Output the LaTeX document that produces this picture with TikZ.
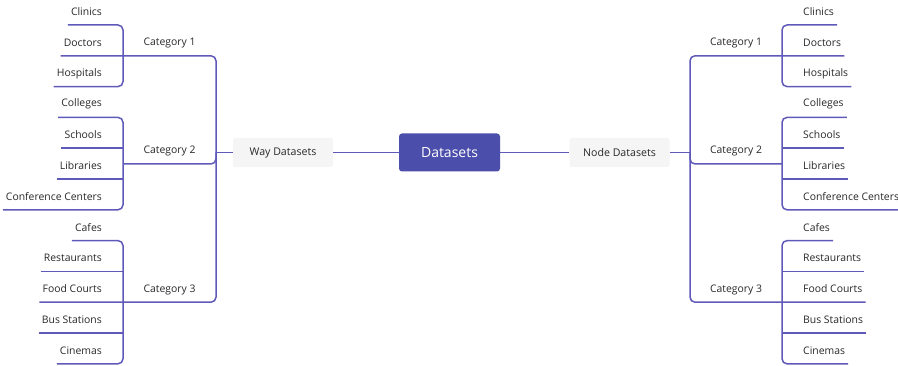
\documentclass[tikz,border=0pt]{standalone}
\usepackage{fontspec}
\setmainfont{Open Sans}
\usetikzlibrary{positioning}
\definecolor{linecol}{RGB}{95,90,185}
\definecolor{rootcol}{RGB}{75,78,170}
\definecolor{textcol}{RGB}{40,40,40}
\tikzset{
    leafL/.style={anchor=south east, minimum height=26pt, inner xsep=3pt, inner ysep=0pt, font=\fontsize{10.4}{12}\selectfont, text=textcol},
    leafR/.style={leafL, anchor=south west},
    cat/.style={font=\fontsize{10.4}{12}\selectfont, text=textcol},
    root/.style={rectangle, rounded corners=3pt, fill=rootcol, text=white, minimum width=101pt, minimum height=38pt, font=\fontsize{14}{16}\selectfont},
    sub/.style={rectangle, rounded corners=2pt, fill=black!4, text=textcol, minimum width=100pt, minimum height=29pt, font=\fontsize{10.6}{12}\selectfont},
    link/.style={draw=linecol, line width=1.5pt, rounded corners=5pt}
}
\begin{document}
\begin{tikzpicture}[x=1pt, y=-1pt]
    \useasboundingbox (0,0) rectangle (898,366);

    % Main nodes
    \node[root] (ds) at (449.5,152.5) {Datasets};
    \node[sub] (way) at (283,152.5) {Way Datasets};
    \node[sub] (nds) at (619.5,152.5) {Node Datasets};

    % Trunk and bracket points
    \coordinate (tl) at (216,152.5);
    \coordinate (tr) at (690,152.5);
    \coordinate (bl1) at (123,56);
    \coordinate (bl2) at (123,164);
    \coordinate (bl3) at (123,302);
    \coordinate (br1) at (782,56);
    \coordinate (br2) at (782,164);
    \coordinate (br3) at (782,302);

    % Leaves
    \foreach \n/\t/\y in {a/Clinics/25, b/Doctors/55.8, c/Hospitals/86.6,
        d/Colleges/117.4, e/Schools/148.2, f/Libraries/179, g/Conference Centers/209.8,
        h/Cafes/240.6, i/Restaurants/271.4, j/Food Courts/302.2, k/Bus Stations/333, l/Cinemas/363.8} {
        \node[leafL] (l\n) at (105,\y) {\t};
        \node[leafR] (r\n) at (800,\y) {\t};
    }

    % Categories
    \node[cat] (cl1) at (169.5,43) {Category 1};
    \node[cat] (cl2) at (169.5,151) {Category 2};
    \node[cat] (cl3) at (169.5,290) {Category 3};
    \node[cat] (cr1) at (736,43) {Category 1};
    \node[cat] (cr2) at (736,151) {Category 2};
    \node[cat] (cr3) at (736,290) {Category 3};

    % Center links
    \draw[link] (way) -- (ds);
    \draw[link] (ds) -- (nds);
    \draw[link] (way) -- (tl);
    \draw[link] (nds) -- (tr);

    % Left side
    \draw[link] (lb.south west) -| (tl) |- (lj.south west);
    \draw[link] (la.south west) -| (bl1) |- (lc.south west);
    \draw[link] (ld.south west) -| (bl2) |- (lg.south west);
    \draw[link] (le.south west) -- (le.south west -| bl2);
    \draw[link] (lf.south west) -- (lf.south west -| bl2);
    \draw[link] (bl2) -| (tl);
    \draw[link] (lh.south west) -| (bl3) |- (ll.south west);
    \draw[link] (li.south west) -- (li.south west -| bl3);
    \draw[link] (lk.south west) -- (lk.south west -| bl3);

    % Right side
    \draw[link] (rb.south east) -| (tr) |- (rj.south east);
    \draw[link] (ra.south east) -| (br1) |- (rc.south east);
    \draw[link] (rd.south east) -| (br2) |- (rg.south east);
    \draw[link] (re.south east) -- (re.south east -| br2);
    \draw[link] (rf.south east) -- (rf.south east -| br2);
    \draw[link] (br2) -| (tr);
    \draw[link] (rh.south east) -| (br3) |- (rl.south east);
    \draw[link] (ri.south east) -- (ri.south east -| br3);
    \draw[link] (rk.south east) -- (rk.south east -| br3);
\end{tikzpicture}
\end{document}
